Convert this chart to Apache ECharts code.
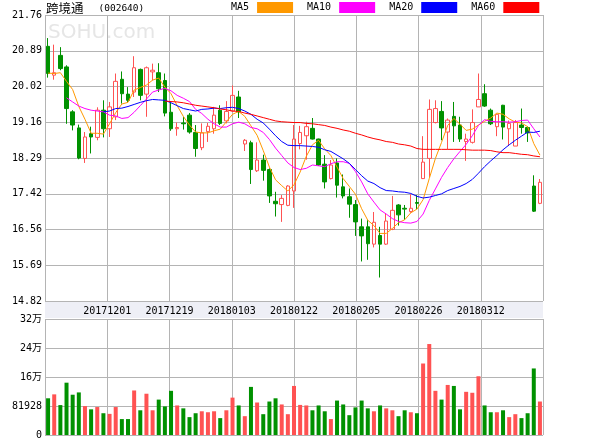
<!DOCTYPE html>
<html><head><meta charset="utf-8">
<script src="https://cdn.jsdelivr.net/npm/echarts@6/dist/echarts.min.js"></script>
<style>html,body{margin:0;padding:0;background:#fff}#c{width:600px;height:440px}</style>
</head><body><div id="c"></div>
<script>
// ---- data ----
const openPrice = [21.00,20.30,20.78,20.50,19.41,19.02,18.28,18.88,18.79,19.45,
 19.00,19.29,20.20,19.84,19.89,20.44,19.84,20.38,20.36,20.17,
 19.40,19.00,19.14,19.33,18.91,18.54,18.93,19.00,19.45,19.19,
 19.43,19.77,18.63,18.66,17.98,18.24,18.01,17.24,17.16,17.14,
 17.49,18.64,18.83,19.01,18.75,18.14,17.79,18.17,17.59,17.35,
 17.16,16.62,16.62,16.20,16.41,16.20,16.56,17.15,17.07,16.99,
 17.21,17.79,18.28,19.15,19.42,18.92,19.30,19.09,18.69,18.67,
 19.53,19.85,19.45,19.05,19.57,19.00,18.58,19.09,19.03,17.61,
 17.19];
const closePrice = [20.34,20.36,20.46,19.49,19.09,18.29,18.80,18.80,19.45,19.00,
 19.53,20.15,19.85,19.69,20.48,19.81,20.48,20.42,19.97,19.38,
 19.00,19.03,19.12,18.92,18.52,18.90,19.06,19.33,19.13,19.42,
 19.81,19.41,18.72,18.01,18.24,17.99,17.37,17.18,17.31,17.61,
 18.75,18.91,19.05,18.75,18.12,17.71,18.12,17.63,17.37,17.17,
 16.74,16.40,16.21,16.73,16.20,16.76,17.02,16.91,17.05,17.07,
 17.19,18.19,19.47,19.49,19.02,19.21,19.07,18.75,18.75,19.15,
 19.71,19.55,19.12,19.35,19.04,19.13,19.15,19.03,18.90,17.00,
 17.70];
const lowPrice = [20.24,20.19,20.42,19.12,18.96,18.26,18.17,18.40,18.72,18.79,
 18.80,19.21,19.61,19.65,19.77,19.69,19.29,20.17,19.89,19.30,
 18.95,18.83,18.98,18.88,18.32,18.48,18.68,18.88,19.09,19.13,
 19.41,19.26,18.46,17.66,17.95,17.74,17.20,16.87,16.74,17.12,
 17.08,18.50,18.25,18.74,18.10,17.55,17.77,17.33,17.31,16.84,
 16.40,15.78,15.82,16.12,15.39,16.18,16.54,16.65,16.79,16.96,
 17.05,17.78,17.83,19.13,18.72,18.50,18.68,18.68,18.22,18.64,
 19.53,19.53,19.09,18.82,18.74,18.58,18.58,18.88,18.68,16.98,
 17.17];
const highPrice = [21.20,21.04,20.98,20.54,19.45,19.10,18.92,19.05,19.52,19.69,
 19.65,20.34,20.39,20.01,20.76,20.46,20.51,20.58,20.59,20.34,
 19.63,19.15,19.29,19.38,19.09,19.13,19.14,19.53,19.57,19.67,
 20.05,19.92,18.75,18.71,18.67,18.37,18.04,17.47,17.39,17.63,
 19.09,19.07,19.17,19.26,18.76,18.36,18.24,18.28,17.89,17.55,
 17.27,16.82,16.78,16.98,16.62,16.95,17.37,17.17,17.15,17.41,
 17.39,18.82,19.71,19.69,19.67,19.25,19.65,19.29,18.88,19.47,
 20.34,20.08,19.49,19.36,19.58,19.20,19.21,19.49,19.06,17.87,
 17.78];
const volume = [103700,114800,84500,147800,113800,120300,81700,72500,79000,61500,
 59700,79000,45000,45000,125800,69800,116600,69800,100000,80800,
 124800,83500,75300,50500,61500,67000,64300,67000,47700,69800,
 105600,83500,53200,135900,91800,58800,94600,103700,86300,58800,
 138600,85000,83500,69800,83500,67000,45000,97300,86300,56000,
 78000,97300,75300,67000,83500,75300,69800,53200,69800,64300,
 61500,202000,257000,124800,100000,141400,138600,72500,122000,119300,
 166000,83500,64300,64300,69800,50500,58800,47700,61500,188000,
 94600];
const ma5 = [20.35,20.34,20.36,20.15,19.95,19.54,19.23,18.89,18.89,18.87,
 19.12,19.39,19.60,19.64,19.94,20.00,20.06,20.18,20.23,20.01,
 19.85,19.56,19.30,19.09,18.92,18.90,18.90,18.95,18.99,19.17,
 19.35,19.42,19.30,19.07,18.84,18.47,18.07,17.76,17.62,17.49,
 17.64,17.95,18.33,18.61,18.72,18.51,18.35,18.07,17.79,17.60,
 17.41,17.06,16.78,16.65,16.46,16.46,16.58,16.72,16.79,16.96,
 17.05,17.28,17.79,18.28,18.67,19.08,19.25,19.11,18.96,18.99,
 19.09,19.18,19.26,19.38,19.35,19.24,19.16,19.14,19.05,18.64,
 18.36];
const ma10 = [null,null,null,19.75,19.65,19.55,19.49,19.45,19.43,19.41,
 19.33,19.31,19.25,19.27,19.40,19.56,19.72,19.89,19.94,19.98,
 19.92,19.81,19.74,19.66,19.47,19.37,19.23,19.12,19.04,19.04,
 19.12,19.16,19.12,19.03,19.00,18.91,18.74,18.53,18.35,18.17,
 18.06,18.01,18.04,18.12,18.10,18.08,18.15,18.20,18.20,18.16,
 17.96,17.71,17.42,17.22,17.03,16.93,16.82,16.75,16.72,16.71,
 16.75,16.93,17.26,17.54,17.82,18.06,18.27,18.45,18.62,18.83,
 19.08,19.22,19.18,19.17,19.17,19.16,19.17,19.20,19.21,19.00,
 18.80];
const ma20 = [null,null,null,null,null,null,null,null,null,19.41,
 19.43,19.49,19.50,19.54,19.59,19.64,19.68,19.71,19.70,19.69,
 19.63,19.56,19.49,19.46,19.43,19.47,19.48,19.50,19.49,19.51,
 19.52,19.49,19.43,19.35,19.23,19.14,18.99,18.83,18.69,18.60,
 18.59,18.59,18.58,18.57,18.55,18.49,18.45,18.36,18.27,18.16,
 18.01,17.86,17.73,17.67,17.57,17.50,17.49,17.47,17.46,17.43,
 17.36,17.32,17.34,17.38,17.42,17.50,17.55,17.60,17.67,17.77,
 17.92,18.08,18.22,18.35,18.49,18.61,18.72,18.82,18.92,18.91,
 18.94];
const ma60 = [null,null,null,null,null,null,null,null,null,null,
 null,null,null,null,null,null,null,null,null,19.67,
 19.66,19.65,19.63,19.60,19.57,19.55,19.53,19.51,19.48,19.46,
 19.43,19.42,19.38,19.35,19.31,19.27,19.23,19.19,19.17,19.16,
 19.15,19.15,19.13,19.12,19.10,19.08,19.04,19.01,18.97,18.94,
 18.89,18.85,18.80,18.76,18.73,18.69,18.67,18.63,18.61,18.58,
 18.52,18.50,18.50,18.50,18.50,18.50,18.50,18.50,18.49,18.48,
 18.48,18.48,18.47,18.44,18.42,18.42,18.40,18.38,18.37,18.34,
 18.32];
const priceTicks = ['14.82','15.69','16.56','17.42','18.29','19.16','20.02','20.89','21.76'];
const volTicks = ['0','81928','16万','24万','32万'];
const dateTicks = ['','20171201','20171219','20180103','20180122','20180205','20180226','20180312',''];
const days = openPrice.map((_, i) => 'd' + i);

// ---- styles ----
const UP = '#FF5252', DOWN = '#009100', GRID = '#B4B4B4';
const mono = "'DejaVu Sans Mono', monospace";
const candles = openPrice.map((o, i) => [o, closePrice[i], lowPrice[i], highPrice[i]]);
const volData = volume.map((v, i) => ({ value: v, itemStyle: { color: closePrice[i] >= openPrice[i] ? UP : DOWN } }));

const chart = echarts.init(document.getElementById('c'), null, { renderer: 'canvas' });
const maLine = (name, data, color) => ({
  type: 'line', name, data, xAxisIndex: 0, yAxisIndex: 0, symbol: 'none', silent: true,
  lineStyle: { width: 1, color }, itemStyle: { color }, z: 3
});
chart.setOption({
  animation: false,
  backgroundColor: '#fff',
  title: {
    text: '{a|跨境通}{b|(002640)}', left: 46, top: 2, padding: 0,
    textStyle: { fontWeight: 'normal', rich: {
      a: { fontFamily: "'Noto Sans CJK SC'", fontSize: 12.5, fontWeight: 'normal', color: '#000' },
      b: { fontFamily: mono, fontSize: 9.5, fontWeight: 'normal', color: '#000', padding: [0, 0, 0, 15] }
    } }
  },
  legend: {
    left: 231, top: 2, padding: 0, itemWidth: 36, itemHeight: 11, itemGap: 14, icon: 'rect', align: 'right',
    selectedMode: false,
    textStyle: { fontFamily: mono, fontSize: 10, color: '#000', padding: [0, 3, 0, 0] },
    data: ['MA5', 'MA10', 'MA20', 'MA60']
  },
  graphic: [{
    type: 'text', left: 48, top: 23, z: 0, silent: true,
    style: { text: 'SOHU.com', fill: '#E6E6E6', font: "20px 'DejaVu Sans'" }
  }],
  grid: [
    { left: 45, top: 15, width: 498, height: 286 },
    { left: 45, top: 319, width: 498, height: 119 },
    { left: 45, top: 302, width: 498, height: 16, show: true, backgroundColor: '#EEEFF6', borderWidth: 0 }
  ],
  xAxis: [
    { type: 'category', gridIndex: 0, data: days, position: 'bottom', show: false },
    { type: 'value', gridIndex: 0, min: 0, max: 8, interval: 1, position: 'bottom',
      axisLine: { show: false }, axisTick: { show: false },
      splitLine: { show: true, lineStyle: { color: GRID, width: 1 } },
      axisLabel: { formatter: v => dateTicks[Math.round(v)] || '', fontFamily: mono, fontSize: 10, color: '#000', margin: 5, showMinLabel: true, showMaxLabel: true } },
    { type: 'category', gridIndex: 1, data: days, position: 'bottom', show: false },
    { type: 'value', gridIndex: 1, min: 0, max: 8, interval: 1, position: 'bottom',
      axisLine: { show: false }, axisTick: { show: false }, axisLabel: { show: false },
      splitLine: { show: true, lineStyle: { color: GRID, width: 1 } } },
    { type: 'value', gridIndex: 2, min: 0, max: 1, show: false }
  ],
  yAxis: [
    { type: 'value', gridIndex: 0, min: 14.82, max: 21.76, interval: 0.8675,
      axisLine: { show: false }, axisTick: { show: false },
      splitLine: { show: true, lineStyle: { color: GRID, width: 1 } },
      axisLabel: { formatter: v => priceTicks[Math.round((v - 14.82) / 0.8675)], fontFamily: mono, fontSize: 10, color: '#000', margin: 3, showMinLabel: true, showMaxLabel: true } },
    { type: 'value', gridIndex: 1, min: 0, max: 327712, interval: 81928,
      axisLine: { show: false }, axisTick: { show: false },
      splitLine: { show: true, lineStyle: { color: GRID, width: 1 } },
      axisLabel: { formatter: v => volTicks[Math.round(v / 81928)], fontFamily: mono + ", 'Noto Sans CJK SC'", fontSize: 10, color: '#000', margin: 3, showMinLabel: true, showMaxLabel: true } },
    { type: 'value', gridIndex: 2, min: 0, max: 1, show: false }
  ],
  series: [
    { type: 'candlestick', name: 'K', xAxisIndex: 0, yAxisIndex: 0, data: candles, barWidth: 4, silent: true,
      itemStyle: { color: 'transparent', color0: DOWN, borderColor: UP, borderColor0: DOWN, borderColorDoji: UP, borderWidth: 1 }, z: 2 },
    maLine('MA5', ma5, '#FF9900'),
    maLine('MA10', ma10, '#FF00FF'),
    maLine('MA20', ma20, '#0000FF'),
    maLine('MA60', ma60, '#FF0000'),
    { type: 'bar', name: 'VOL', xAxisIndex: 2, yAxisIndex: 1, data: volData, barWidth: 4, silent: true }
  ]
});
</script></body></html>
